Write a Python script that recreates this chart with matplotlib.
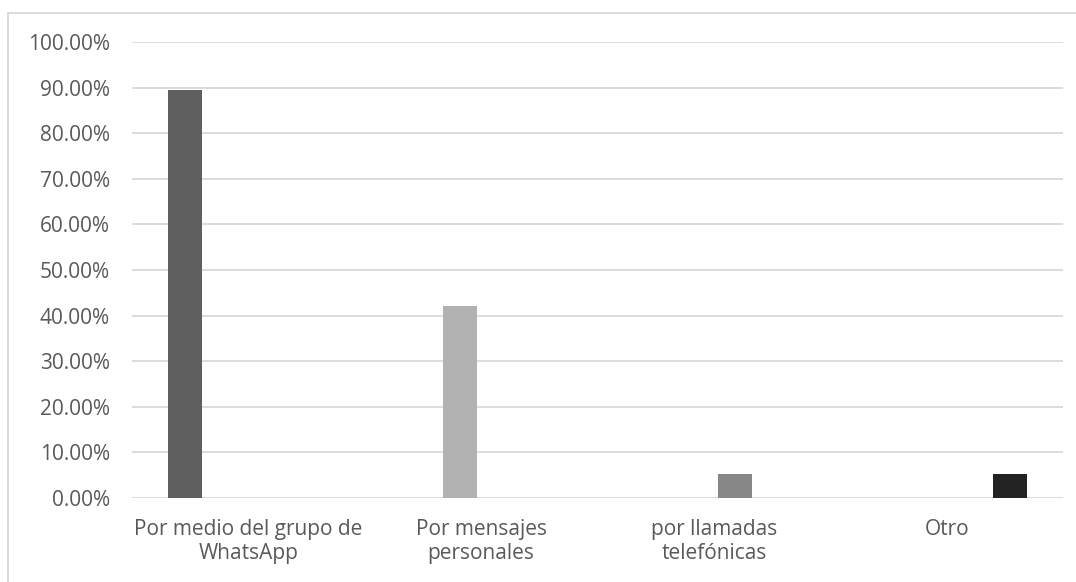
import numpy as np
import matplotlib.pyplot as plt
from matplotlib.lines import Line2D

categories = ['Por medio del grupo de\nWhatsApp', 'Por mensajes\npersonales',
              'por llamadas\ntelefónicas', 'Otro']
# four series, each only non-zero in its own category (Excel grouped layout)
series = [
    [89.47, 0, 0, 0],
    [0, 42.11, 0, 0],
    [0, 0, 5.26, 0],
    [0, 0, 0, 5.26],
]
colors = ['#5f5f5f', '#b2b2b2', '#878787', '#232323']
yticks = np.arange(0, 101, 10)

plt.rcParams['font.family'] = ['Open Sans', 'DejaVu Sans']

fig = plt.figure(figsize=(10.76, 5.82), dpi=100)
ax = fig.add_axes([132/1076, 1 - 498/582, (1063-132)/1076, (498-42)/582])

x = np.arange(len(categories))
step = 0.182
width = 0.146
for i, (vals, c) in enumerate(zip(series, colors)):
    ax.bar(x + (i - 1.5) * step, vals, width, color=c, zorder=3)

ax.set_xlim(-0.5, len(categories) - 0.5)
ax.set_ylim(0, 100)
ax.set_yticks(yticks)
ax.set_yticklabels([f'{v:.2f}%' for v in yticks])
ax.set_xticks(x)
ax.set_xticklabels(categories)
ax.grid(axis='y', color='#d9d9d9', linewidth=1.3, zorder=0)
for s in ax.spines.values():
    s.set_visible(False)
ax.tick_params(length=0, colors='#595959', labelsize=15)
ax.tick_params(axis='y', pad=16)
ax.tick_params(axis='x', pad=15)
for lbl in ax.get_xticklabels():
    lbl.set_linespacing(1.2)

# chart area border
fig.add_artist(Line2D([8/1076, 8/1076], [0, 1 - 13/582], color='#d9d9d9', lw=1.3))
fig.add_artist(Line2D([8/1076, 1], [1 - 13/582, 1 - 13/582], color='#d9d9d9', lw=1.3))

fig.savefig('out.png', dpi=100)
